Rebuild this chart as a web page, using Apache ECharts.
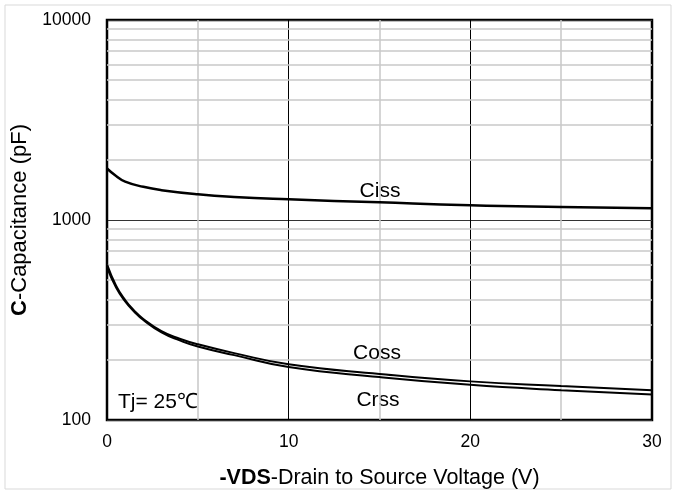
<!DOCTYPE html>
<html>
<head>
<meta charset="utf-8">
<script src="https://cdn.jsdelivr.net/npm/echarts@6/dist/echarts.min.js"></script>
<style>html,body{margin:0;padding:0;background:#fff}#c{width:677px;height:494px}</style>
</head>
<body>
<div id="c"></div>
<script>
var vdsCiss = [0, 0.5, 1, 2, 3, 5, 7, 10, 15, 20, 25, 30];
var ciss    = [1810, 1660, 1555, 1465, 1410, 1345, 1305, 1270, 1225, 1185, 1162, 1145];
var vdsOut  = [0, 0.5, 1, 1.5, 2, 3, 4, 5, 7, 10, 15, 20, 25, 30];
var coss    = [600, 470, 398, 352, 320, 278, 255, 239, 216, 190, 170, 156, 148, 141];
var crss    = [580, 460, 392, 348, 316, 274, 250, 233, 211, 184, 164, 150, 141, 134];
var yMinorGrid = [200, 300, 400, 500, 600, 700, 800, 900, 2000, 3000, 4000, 5000, 6000, 7000, 8000, 9000];

function pairs(xs, ys) { return xs.map(function (x, i) { return [x, ys[i]]; }); }

var font = 'Liberation Sans, Arial, sans-serif';
var chart = echarts.init(document.getElementById('c'), null, { renderer: 'canvas' });

chart.setOption({
  animation: false,
  backgroundColor: '#fff',
  grid: { left: 107, right: 25, top: 20, bottom: 70, show: true, borderColor: '#000', borderWidth: 2.5, backgroundColor: 'transparent' },
  xAxis: {
    type: 'value', min: 0, max: 30, interval: 10,
    name: '{b|-VDS}-Drain to Source Voltage (V)',
    nameLocation: 'middle', nameGap: 47,
    nameTextStyle: { fontFamily: font, fontSize: 21.5, color: '#000', rich: { b: { fontFamily: font, fontSize: 21.5, fontWeight: 'bold', color: '#000' } } },
    axisLine: { show: false }, axisTick: { show: false },
    axisLabel: { fontFamily: font, fontSize: 17.5, color: '#000', margin: 13 },
    splitLine: { show: true, lineStyle: { color: '#000', width: 1 } },
    minorTick: { show: false, splitNumber: 2 },
    minorSplitLine: { show: true, lineStyle: { color: '#c8c8c8', width: 1.5 } }
  },
  yAxis: {
    type: 'log', logBase: 10, min: 100, max: 10000,
    name: '{b|C}-Capacitance (pF)',
    nameLocation: 'middle', nameGap: 68,
    nameTextStyle: { fontFamily: font, fontSize: 22, color: '#000', rich: { b: { fontFamily: font, fontSize: 22, fontWeight: 'bold', color: '#000' } } },
    axisLine: { show: false }, axisTick: { show: false },
    axisLabel: { fontFamily: font, fontSize: 17.5, color: '#000', margin: 16, formatter: function (v) { return String(Math.round(v)); } },
    splitLine: { show: true, lineStyle: { color: '#333', width: 1 } }
  },
  series: [
    {
      type: 'line', data: pairs(vdsCiss, ciss), smooth: 0.5, showSymbol: false, lineStyle: { color: '#000', width: 2.5 }, z: 5,
      markLine: {
        silent: true, symbol: 'none', label: { show: false }, animation: false,
        lineStyle: { color: '#c8c8c8', width: 1.5, type: 'solid' },
        data: yMinorGrid.map(function (v) { return { yAxis: v }; })
      }
    },
    { type: 'line', data: pairs(vdsOut, coss), smooth: 0.5, showSymbol: false, lineStyle: { color: '#000', width: 2 }, z: 5 },
    { type: 'line', data: pairs(vdsOut, crss), smooth: 0.5, showSymbol: false, lineStyle: { color: '#000', width: 2 }, z: 5 }
  ],
  graphic: [
    { type: 'rect', shape: { x: 5, y: 5, width: 666, height: 484 }, style: { fill: 'none', stroke: '#d9d9d9', lineWidth: 1 }, silent: true },
    { type: 'text', x: 380, y: 191, style: { text: 'Ciss', fontFamily: font, fontSize: 21, fill: '#000', textAlign: 'center', textVerticalAlign: 'middle' } },
    { type: 'text', x: 377, y: 353, style: { text: 'Coss', fontFamily: font, fontSize: 21, fill: '#000', textAlign: 'center', textVerticalAlign: 'middle' } },
    { type: 'text', x: 378, y: 400, style: { text: 'Crss', fontFamily: font, fontSize: 21, fill: '#000', textAlign: 'center', textVerticalAlign: 'middle' } },
    { type: 'text', x: 158, y: 402, style: { text: 'Tj= 25℃', fontFamily: font, fontSize: 21, fill: '#000', textAlign: 'center', textVerticalAlign: 'middle' } }
  ]
});
</script>
</body>
</html>
